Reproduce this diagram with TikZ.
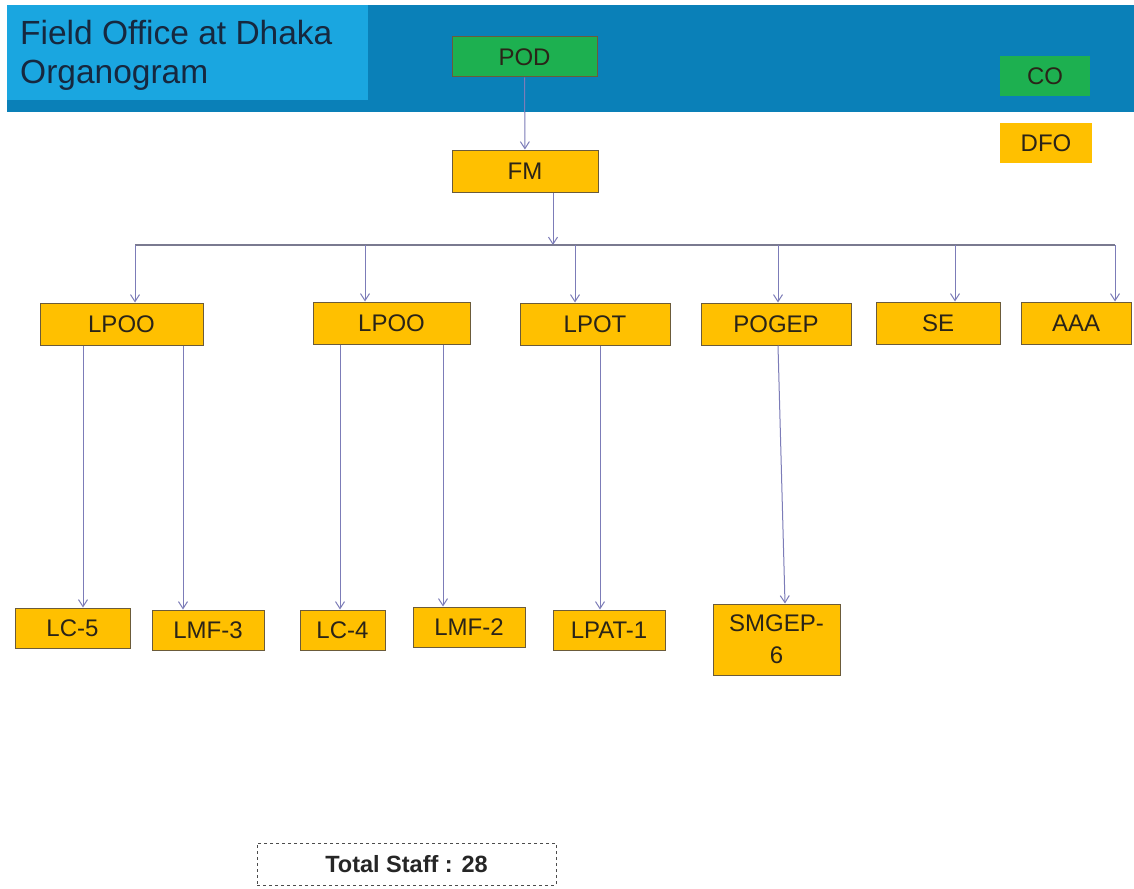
\documentclass[tikz,border=0pt]{standalone}
\usepackage{fontspec}
\setmainfont{Liberation Sans}
\usetikzlibrary{arrows.meta}
\definecolor{bandblue}{HTML}{0A80B8}
\definecolor{titleblue}{HTML}{1AA6E0}
\definecolor{titletext}{HTML}{16283F}
\definecolor{greenf}{HTML}{1DB050}
\definecolor{orangef}{HTML}{FFC000}
\definecolor{boxline}{HTML}{6B5B3A}
\definecolor{textc}{HTML}{2A2418}
\definecolor{arrc}{HTML}{7C7CB8}
\definecolor{busc}{HTML}{7A7A90}
\begin{document}
\begin{tikzpicture}[x=1pt,y=-1pt,
  box/.style={draw=boxline, line width=1pt, fill=orangef, minimum height=42pt, inner sep=0pt,
    font=\fontsize{24}{26}\selectfont, text=textc, align=center},
  gbox/.style={box, fill=greenf},
  arr/.style={draw=arrc, line width=1pt, -{Straight Barb[length=7pt,width=9pt]}},
  bus/.style={draw=busc, line width=1.2pt}]
\useasboundingbox[fill=white] (0,0) rectangle (1134,888);
% banner
\fill[bandblue] (7,5) rectangle (1134,112);
\fill[titleblue] (7,5) rectangle (368,100);
\node[anchor=west, align=left, text=titletext, inner sep=0pt,
  font=\fontsize{33.5}{39}\selectfont] (title) at (20,55) {Field Office at Dhaka\\Organogram};
% top nodes
\node[gbox, minimum width=145pt, minimum height=40pt] (pod) at (524.5,57) {POD};
\node[gbox, draw=none, minimum width=90pt, minimum height=40pt] (co) at (1045,76) {CO};
\node[box, draw=none, minimum width=92pt, minimum height=40pt] (dfo) at (1046,143) {DFO};
\node[box, minimum width=146pt] (fm) at (525,171) {FM};
% row 1
\node[box, minimum width=163pt] (lpooA) at (121.5,324) {LPOO};
\node[box, minimum width=157pt] (lpooB) at (391.5,323) {LPOO};
\node[box, minimum width=150pt] (lpot) at (595,324) {LPOT};
\node[box, minimum width=150pt] (pogep) at (776,324) {POGEP};
\node[box, minimum width=124pt] (se) at (938,323) {SE};
\node[box, minimum width=110pt] (aaa) at (1076,323) {AAA};
% row 2
\node[box, minimum width=115pt, minimum height=40pt] (lc5) at (72.5,628) {LC-5};
\node[box, minimum width=112pt, minimum height=40pt] (lmf3) at (208,630) {LMF-3};
\node[box, minimum width=85pt, minimum height=40pt] (lc4) at (342.5,630) {LC-4};
\node[box, minimum width=112pt, minimum height=40pt] (lmf2) at (469,627) {LMF-2};
\node[box, minimum width=112pt, minimum height=40pt] (lpat) at (609,630) {LPAT-1};
\node[box, minimum width=127pt, minimum height=71pt, font=\fontsize{24}{32}\selectfont] (smgep) at (776.5,639.5) {SMGEP-\\6};
% total
\node[draw=black!70, dashed, line width=0.9pt, minimum width=299pt, minimum height=42pt,
  inner sep=0pt, font=\fontsize{23.5}{26}\selectfont\bfseries, text=black!85] (total) at (406.5,864) {Total Staff : 28};
% helper coordinates
\coordinate (fmx) at (553,0);
\coordinate (busL) at (135,245);
\coordinate (busR) at (1115,245);
\coordinate (bfm) at (553,245);
\coordinate (b1) at (135,245);
\coordinate (b2) at (365,245);
\coordinate (b3) at (575,245);
\coordinate (b4) at (778,245);
\coordinate (b5) at (955,245);
\coordinate (b6) at (1115,245);
\coordinate (x1) at (83,0);
\coordinate (x2) at (183,0);
\coordinate (x3) at (340,0);
\coordinate (x4) at (443,0);
\coordinate (x5) at (600,0);
\coordinate (x6a) at (778,0);
\coordinate (x6b) at (785,0);
% connectors
\draw[arr] (pod) -- (fm);
\draw[arr] (fm.south -| fmx) -- (bfm);
\draw[bus] (busL) -- (busR);
\draw[arr] (b1) -- (lpooA.north -| b1);
\draw[arr] (b2) -- (lpooB.north -| b2);
\draw[arr] (b3) -- (lpot.north -| b3);
\draw[arr] (b4) -- (pogep.north -| b4);
\draw[arr] (b5) -- (se.north -| b5);
\draw[arr] (b6) -- (aaa.north -| b6);
\draw[arr] (lpooA.south -| x1) -- (lc5.north -| x1);
\draw[arr] (lpooA.south -| x2) -- (lmf3.north -| x2);
\draw[arr] (lpooB.south -| x3) -- (lc4.north -| x3);
\draw[arr] (lpooB.south -| x4) -- (lmf2.north -| x4);
\draw[arr] (lpot.south -| x5) -- (lpat.north -| x5);
\draw[arr] (pogep.south -| x6a) -- (smgep.north -| x6b);
\end{tikzpicture}
\end{document}
